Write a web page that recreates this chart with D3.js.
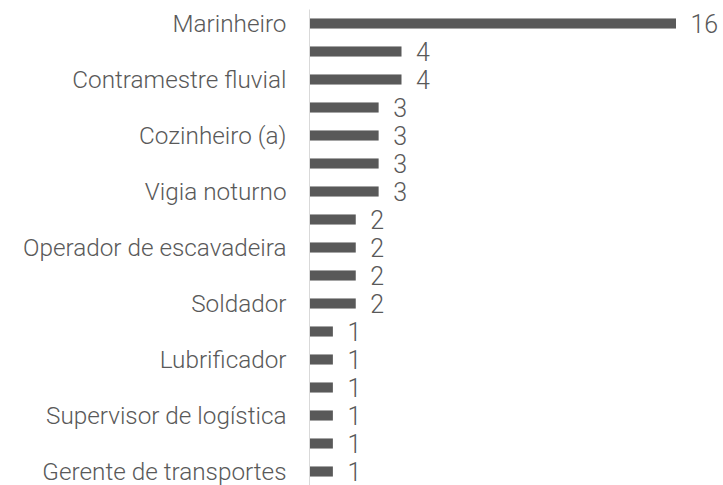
<!DOCTYPE html>
<html>
<head>
<meta charset="utf-8">
<script src="https://cdn.jsdelivr.net/npm/d3@7"></script>
<style>
  body { margin: 0; background: #fff; }
  text { font-family: Roboto, sans-serif; font-weight: 300; }
</style>
</head>
<body>
<script>
// categories (every other label is hidden in the original chart)
var categories = [
  "Marinheiro", "", "Contramestre fluvial", "", "Cozinheiro (a)", "", "Vigia noturno",
  "", "Operador de escavadeira", "", "Soldador", "", "Lubrificador", "",
  "Supervisor de logística", "", "Gerente de transportes"
];
var values = [16, 4, 4, 3, 3, 3, 3, 2, 2, 2, 2, 1, 1, 1, 1, 1, 1];

var width = 723, height = 485;
var margin = {top: 9.5, left: 309.5, right: 47, bottom: -0.5};

var svg = d3.select("body").append("svg")
    .attr("width", width)
    .attr("height", height);

var x = d3.scaleLinear()
    .domain([0, 16])
    .range([margin.left, margin.left + 366]);

var y = d3.scaleBand()
    .domain(d3.range(categories.length))
    .range([margin.top, height - margin.bottom])
    .paddingInner(0.64)
    .paddingOuter(0.32);

// bars
svg.selectAll("rect.bar")
    .data(values)
    .enter().append("rect")
    .attr("class", "bar")
    .attr("x", x(0) + 0.5)
    .attr("y", function(d, i) { return y(i); })
    .attr("width", function(d) { return x(d) - x(0); })
    .attr("height", y.bandwidth())
    .style("fill", "#595959");

// value labels
svg.selectAll("text.val")
    .data(values)
    .enter().append("text")
    .attr("class", "val")
    .attr("x", function(d) { return x(d) + 15; })
    .attr("y", function(d, i) { return y(i) + y.bandwidth() / 2; })
    .attr("dy", "0.36em")
    .style("font-size", "25px")
    .style("fill", "#595959")
    .text(function(d) { return d; });

// category axis
var axis = d3.axisLeft(y)
    .tickSize(0)
    .tickPadding(23)
    .tickFormat(function(i) { return categories[i]; });

var g = svg.append("g")
    .attr("transform", "translate(" + margin.left + ",0)")
    .call(axis);

g.select(".domain").remove();
g.selectAll("text")
    .attr("dy", "0.36em")
    .style("font-family", "Roboto, sans-serif")
    .style("font-weight", 300)
    .style("font-size", "24.3px")
    .style("fill", "#595959");

svg.append("line")
    .attr("x1", margin.left).attr("x2", margin.left)
    .attr("y1", margin.top).attr("y2", height)
    .style("stroke", "#d9d9d9")
    .style("stroke-width", 1);
</script>
</body>
</html>
